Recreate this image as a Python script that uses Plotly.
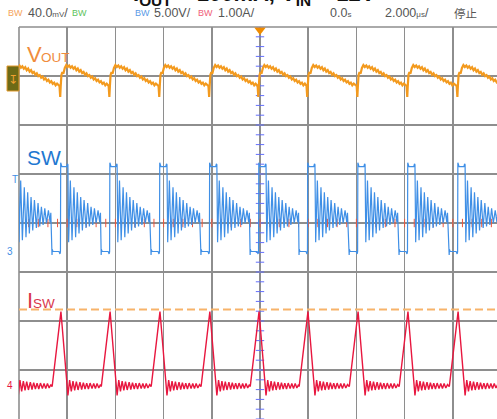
import plotly.graph_objects as go

# ---------------- data ----------------
# times (us) of the switch-current peaks (one per switching period)
PEAK_TIMES = [-10.32, -8.26, -6.22, -4.15, -2.08, -0.04, 1.99, 4.07, 6.14, 8.22, 10.28]

# SW node voltage (V) over one period, offsets (us) relative to the current peak
SW_OFFSETS = [-0.37, -0.36, -0.33, -0.08, -0.04, -0.02, -0.01, 0.01, 0.04, 0.24, 0.27, 0.29,
              0.32, 0.39, 0.46, 0.54, 0.61, 0.68, 0.75, 0.82, 0.89, 0.96, 1.04, 1.11, 1.18,
              1.25, 1.32, 1.39, 1.46, 1.54, 1.61, 1.64]
SW_VOLTS = [-0.4, 0.15, -0.05, -0.05, -0.3, -0.1, 9.0, 8.9, 8.6, 8.6, 8.9, 8.8,
            0.9, 7.2, 1.1, 6.5, 1.4, 6.0, 1.8, 5.5, 2.1, 5.2, 2.35, 4.9, 2.5,
            4.5, 2.65, 4.35, 2.85, 4.15, 2.95, 3.9]

# switch current (A) over one period
ISW_OFFSETS = [-0.37, -0.36, 0.0, 0.29, 0.36, 0.43, 0.50, 0.57, 0.64, 0.71, 0.79, 0.86,
               0.93, 1.00, 1.07, 1.14, 1.21, 1.29, 1.36, 1.43, 1.50, 1.57, 1.64]
ISW_AMPS = [0.03, 0.05, 1.56, -0.15, 0.16, -0.07, 0.14, -0.05, 0.13, -0.04, 0.12, -0.03,
            0.11, -0.02, 0.10, -0.02, 0.10, -0.01, 0.09, -0.01, 0.09, 0.00, 0.07]

# output ripple (mV, AC) over one period
VOUT_OFFSETS = [-0.06, -0.03, -0.01, 0.02, 0.06, 0.10, 0.16, 0.22, 0.28, 0.34,
                0.40, 0.46, 0.52, 0.58, 0.64, 0.70, 0.76, 0.82, 0.88, 0.94, 1.00, 1.06,
                1.12, 1.18, 1.24, 1.30, 1.36, 1.42, 1.48, 1.54, 1.60, 1.66, 1.72, 1.78,
                1.84, 1.90]
VOUT_MV = [-6.5, -15.5, -7.0, 2.5, 4.9, 3.5, 8.2, 10.6, 9.0, 10.2,
           8.4, 9.6, 7.6, 8.8, 6.4, 7.8, 5.2, 6.4, 4.0, 5.0, 2.6, 3.8,
           1.6, 2.4, 0.2, 1.2, -1.2, -0.2, -2.4, -1.4, -3.6, -2.6, -4.8, -3.8,
           -6.0, -4.6]

ISW_LIMIT = 1.6      # A, dashed cursor
TRIGGER_T = 0.0      # us

# header texts
HEADER = ["BW", "40.0", "BW", "BW", "5.00V/", "BW", "1.00A/", "0.0", "2.000", "停止"]
TITLE = "<b>I<sub>OUT</sub> = 100mA, V<sub>IN</sub> = 12V</b>"

# ---------------- geometry ----------------
W, H = 497, 419
L, T = 19, 27
DIV_X = 2.0                      # us / div
X_RANGE = [-10, -10 + (W - L) / 48.2 * DIV_X]
# channel scales and ground-marker positions (px)
VOUT_SCALE, VOUT_GND = 40.0, 78
SW_SCALE, SW_GND = 5.0, 251
ISW_SCALE, ISW_GND = 1.0, 388
DIV_PX = (H - T) / 8.0


def ch_range(scale, gnd):
    return [-(H - gnd) / DIV_PX * scale, (gnd - T) / DIV_PX * scale]


def px(x):
    return (x - L) / (W - L)


def py(y):
    return (H - y) / (H - T)


def build(offsets, values):
    xs, ys = [], []
    for p in PEAK_TIMES:
        for o, v in zip(offsets, values):
            xs.append(round(p + o, 4))
            ys.append(v)
    return xs, ys


NARROW = "Liberation Sans Narrow, Arial Narrow, Liberation Sans, Arial, sans-serif"
GRID = "#8e8e8e"

fig = go.Figure()

# centre-line minor ticks
fig.add_trace(go.Scatter(x=[0.0] * 41, y=[i / 5 for i in range(-20, 21)], mode="markers",
                         marker=dict(symbol="line-ew-open", size=6, line=dict(width=1, color=GRID)),
                         hoverinfo="skip", showlegend=False, yaxis="y"))
fig.add_trace(go.Scatter(x=[i * 0.4 for i in range(-25, 25)], y=[0.0] * 50, mode="markers",
                         marker=dict(symbol="line-ns-open", size=6, line=dict(width=1, color=GRID)),
                         hoverinfo="skip", showlegend=False, yaxis="y"))

vx, vy = build(VOUT_OFFSETS, VOUT_MV)
fig.add_trace(go.Scatter(x=vx, y=vy, mode="lines", line=dict(color="#f39a1e", width=2.2),
                         yaxis="y2", showlegend=False, name="VOUT"))
sx, sy = build(SW_OFFSETS, SW_VOLTS)
fig.add_trace(go.Scatter(x=sx, y=sy, mode="lines", line=dict(color="#3f8fe6", width=1.2),
                         yaxis="y3", showlegend=False, name="SW"))
ix, iy = build(ISW_OFFSETS, ISW_AMPS)
fig.add_trace(go.Scatter(x=ix, y=iy, mode="lines", line=dict(color="#e8173f", width=1.4),
                         yaxis="y4", showlegend=False, name="ISW"))

# trigger position marker
fig.add_trace(go.Scatter(x=[TRIGGER_T], y=[3.94], mode="markers", yaxis="y",
                         marker=dict(symbol="triangle-down", size=10, color="#f08c00"),
                         cliponaxis=False, hoverinfo="skip", showlegend=False))

shapes = [
    dict(type="line", xref="paper", yref="paper", x0=0, x1=0, y0=0, y1=1,
         line=dict(color=GRID, width=1.6), layer="below"),
    dict(type="line", xref="paper", yref="paper", x0=0, x1=1, y0=1, y1=1,
         line=dict(color=GRID, width=1.6), layer="below"),
    dict(type="line", xref="paper", yref="y4", x0=0, x1=1, y0=ISW_LIMIT, y1=ISW_LIMIT,
         line=dict(color="#f7b36a", width=2, dash="8px,4px")),
    # channel 1 marker box
    dict(type="rect", xref="paper", yref="paper", x0=px(7), x1=px(19), y0=py(91), y1=py(66),
         fillcolor="#6d6a16", line=dict(color="#e39a2c", width=1)),
]

ann = []


def text(x, y, s, size, color, family=NARROW, xanchor="left"):
    ann.append(dict(x=px(x), y=py(y), xref="paper", yref="paper", text=s, showarrow=False,
                    xanchor=xanchor, yanchor="middle", font=dict(size=size, color=color, family=family)))


# cropped title (drawn first so the header row sits on top)
ann.append(dict(x=px(254), y=py(11), xref="paper", yref="paper", text=TITLE, showarrow=False,
                xanchor="center", yanchor="bottom", font=dict(size=22, color="#111111", family="Arial, Liberation Sans")))

# header row
HY = 13
text(6, HY, HEADER[0], 9, "#f5a35a")
text(26, HY, HEADER[1] + "<span style='font-size:8px'>mV</span>/", 12.5, "#555555")
text(70, HY, HEADER[2], 9, "#5cc35c")
text(133, HY, HEADER[3], 9, "#5a9ae6")
text(152, HY, HEADER[4], 12.5, "#555555")
text(196, HY, HEADER[5], 9, "#f0607a")
text(216, HY, HEADER[6], 12.5, "#555555")
text(328, HY, HEADER[7] + "<span style='font-size:8px'>s</span>", 12.5, "#555555")
text(383, HY, HEADER[8] + "<span style='font-size:8px'>μs</span>/", 12.5, "#555555")
text(452, HY, HEADER[9], 11.5, "#555555", family="Noto Sans CJK SC")

# channel labels
text(25, 54, "V", 22, "#f08c3c")
text(39, 57.5, "OUT", 13.5, "#f08c3c")
text(25, 158, "SW", 21, "#1f78d1")
text(25, 300, "I", 22, "#d9364c")
text(31, 303.5, "SW", 13.5, "#d9364c")

# left-side channel markers
text(13, 80, "↧", 12, "#f0a030", family="DejaVu Sans", xanchor="center")
text(15, 180, "T", 10, "#3f8fe6", xanchor="center")
text(9.5, 251, "3", 10, "#3f8fe6", xanchor="center")
text(9.5, 385, "4", 10, "#e8173f", xanchor="center")

fig.add_trace(go.Scatter(x=[px(16), px(16), px(17)], y=[py(191), py(252), py(386)],
                         xaxis="x2", yaxis="y5", mode="markers",
                         marker=dict(symbol="triangle-right", size=7,
                                     color=["#3f8fe6", "#3f8fe6", "#e8173f"]),
                         cliponaxis=False, hoverinfo="skip", showlegend=False))
fig.add_trace(go.Scatter(x=[px(12), px(12)], y=[py(259), py(393)],
                         xaxis="x2", yaxis="y5", mode="markers",
                         marker=dict(symbol="triangle-down", size=6,
                                     color=["#3f8fe6", "#e8173f"]),
                         cliponaxis=False, hoverinfo="skip", showlegend=False))

axis_off = dict(visible=False, fixedrange=True)
fig.update_layout(
    width=W, height=H,
    margin=dict(l=L, r=0, t=T, b=0),
    paper_bgcolor="white", plot_bgcolor="white",
    showlegend=False,
    xaxis=dict(range=X_RANGE, tick0=-10, dtick=DIV_X, showgrid=True, gridcolor=GRID, gridwidth=1.6,
               showticklabels=False, ticks="", zeroline=False, showline=False),
    yaxis=dict(range=[-4, 4], tick0=-4, dtick=1, showgrid=True, gridcolor=GRID, gridwidth=1.6,
               showticklabels=False, ticks="", zeroline=False, showline=False),
    yaxis2=dict(range=ch_range(VOUT_SCALE, VOUT_GND), overlaying="y", **axis_off),
    yaxis3=dict(range=ch_range(SW_SCALE, SW_GND), overlaying="y", **axis_off),
    yaxis4=dict(range=ch_range(ISW_SCALE, ISW_GND), overlaying="y", **axis_off),
    xaxis2=dict(range=[0, 1], overlaying="x", **axis_off),
    yaxis5=dict(range=[0, 1], overlaying="y", **axis_off),
    shapes=shapes,
    annotations=ann,
)

fig.write_html("out.html", config={"displayModeBar": False, "staticPlot": True},
               post_script="document.body.style.margin='0px';")
